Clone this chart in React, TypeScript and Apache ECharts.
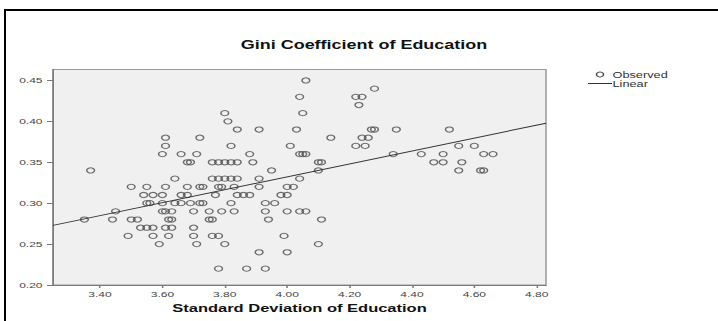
import { useEffect, useRef } from 'react';
import * as echarts from 'echarts';

// Gini coefficient levels and the standard deviations observed at each level
const giniLevels = [
  0.45, 0.44, 0.43, 0.42, 0.41, 0.4, 0.39, 0.38, 0.37, 0.36, 0.35, 0.34,
  0.33, 0.32, 0.31, 0.3, 0.29, 0.28, 0.27, 0.26, 0.25, 0.24, 0.22,
];
const stdDevAtLevel = [
  [4.06],
  [4.28],
  [4.04, 4.22, 4.24],
  [4.23],
  [3.8, 4.05],
  [3.81],
  [3.84, 3.91, 4.03, 4.27, 4.28, 4.35, 4.52],
  [3.61, 3.72, 4.14, 4.24, 4.26],
  [3.61, 3.82, 4.01, 4.22, 4.25, 4.55, 4.6],
  [3.6, 3.66, 3.71, 3.88, 4.04, 4.05, 4.06, 4.34, 4.43, 4.5, 4.63, 4.66],
  [3.68, 3.69, 3.76, 3.78, 3.8, 3.82, 3.84, 3.89, 4.1, 4.11, 4.47, 4.5, 4.56],
  [3.37, 3.95, 4.1, 4.55, 4.62, 4.63],
  [3.64, 3.76, 3.78, 3.8, 3.82, 3.84, 3.91, 4.04],
  [3.5, 3.55, 3.61, 3.68, 3.72, 3.73, 3.78, 3.79, 3.83, 3.91, 4.0, 4.02],
  [3.54, 3.57, 3.6, 3.66, 3.68, 3.77, 3.84, 3.86, 3.88, 3.98, 4.0],
  [3.55, 3.56, 3.6, 3.64, 3.66, 3.69, 3.72, 3.73, 3.82, 3.93, 3.96],
  [3.45, 3.6, 3.61, 3.63, 3.7, 3.75, 3.79, 3.83, 3.93, 4.0, 4.04, 4.06],
  [3.35, 3.44, 3.5, 3.52, 3.62, 3.63, 3.75, 3.76, 3.94, 4.11],
  [3.53, 3.55, 3.57, 3.61, 3.63, 3.7],
  [3.49, 3.57, 3.62, 3.7, 3.76, 3.78, 3.99],
  [3.59, 3.71, 3.8, 4.1],
  [3.91, 4.0],
  [3.78, 3.87, 3.93],
];

// Linear fit: gini = intercept + slope * stdDev
const fitIntercept = 0.0162;
const fitSlope = 0.079;

// Axis ranges and tick labels
const xRange = [3.2493, 4.8298];
const yRange = [0.2, 0.4634];
const xTickValues = [3.4, 3.6, 3.8, 4.0, 4.2, 4.4, 4.6, 4.8];
const yTickValues = [0.2, 0.25, 0.3, 0.35, 0.4, 0.45];

const titleText = 'Gini Coefficient of Education';
const xAxisTitle = 'Standard Deviation of Education';
const legendLabels = ['Observed', 'Linear'];

// The chart is laid out on a narrower canvas and stretched horizontally.
const PAGE_W = 718;
const PAGE_H = 321;
const DRAW_W = 479;
const STRETCH = PAGE_W / DRAW_W;

const FONT = "'Liberation Sans', Arial, Helvetica, sans-serif";

export default function App() {
  const ref = useRef<HTMLDivElement>(null);

  useEffect(() => {
    if (!ref.current) return;
    const chart = echarts.init(ref.current, undefined, { renderer: 'svg' });

    const observed: number[][] = [];
    giniLevels.forEach((g, i) => {
      stdDevAtLevel[i].forEach((sd) => observed.push([sd, g]));
    });
    const fitted = xRange.map((x) => [x, fitIntercept + fitSlope * x]);

    const u = (px: number) => px / STRETCH; // page x -> drawing x

    chart.setOption({
      animation: false,
      backgroundColor: '#ffffff',
      textStyle: { fontFamily: FONT },
      grid: {
        left: u(53),
        right: DRAW_W - u(546),
        top: 69.5,
        bottom: PAGE_H - 285,
        show: true,
        backgroundColor: '#f0f0f0',
        borderColor: '#9a9a9a',
        borderWidth: 1,
      },
      xAxis: {
        type: 'value',
        min: xRange[0],
        max: xRange[1],
        name: xAxisTitle,
        nameLocation: 'middle',
        nameGap: 18,
        nameTextStyle: {
          fontSize: 11,
          fontWeight: 'bold',
          color: '#111',
          fontFamily: FONT,
        },
        axisLine: { show: true, lineStyle: { color: '#7a7a7a', width: 1 } },
        axisTick: {
          show: true,
          inside: false,
          length: 3,
          customValues: xTickValues,
          lineStyle: { color: '#7a7a7a' },
        },
        axisLabel: {
          customValues: xTickValues,
          formatter: (v: number) => v.toFixed(2),
          fontSize: 8,
          color: '#444',
          margin: 5,
          fontFamily: FONT,
        },
        splitLine: { show: false },
      },
      yAxis: {
        type: 'value',
        min: yRange[0],
        max: yRange[1],
        axisLine: { show: true, lineStyle: { color: '#7a7a7a', width: 1 } },
        axisTick: {
          show: true,
          inside: false,
          length: 4,
          customValues: yTickValues,
          lineStyle: { color: '#7a7a7a' },
        },
        axisLabel: {
          customValues: yTickValues,
          formatter: (v: number) => v.toFixed(2),
          fontSize: 8,
          color: '#444',
          margin: 7,
          fontFamily: FONT,
        },
        splitLine: { show: false },
      },
      series: [
        {
          name: legendLabels[0],
          type: 'scatter',
          data: observed,
          symbol: 'circle',
          symbolSize: 5.2,
          itemStyle: {
            color: 'rgba(0,0,0,0)',
            borderColor: '#4a4a4a',
            borderWidth: 1,
          },
          silent: true,
        },
        {
          name: legendLabels[1],
          type: 'line',
          data: fitted,
          showSymbol: false,
          symbol: 'none',
          lineStyle: { color: '#333', width: 1 },
          silent: true,
          z: 3,
        },
      ],
      graphic: [
        // outer frame (top and left edges)
        {
          type: 'rect',
          shape: { x: u(4), y: 9, width: DRAW_W, height: 2 },
          style: { fill: '#000' },
          silent: true,
        },
        {
          type: 'rect',
          shape: { x: u(4), y: 9, width: u(2), height: PAGE_H },
          style: { fill: '#000' },
          silent: true,
        },
        // chart title
        {
          type: 'text',
          x: u(364),
          y: 44.5,
          style: {
            text: titleText,
            align: 'center',
            verticalAlign: 'middle',
            fontSize: 12,
            fontWeight: 'bold',
            fontFamily: FONT,
            fill: '#111',
          },
          silent: true,
        },
        // legend
        {
          type: 'circle',
          shape: { cx: u(600), cy: 74.5, r: 2.4 },
          style: { fill: 'rgba(0,0,0,0)', stroke: '#4a4a4a', lineWidth: 1 },
          silent: true,
        },
        {
          type: 'text',
          x: u(612.5),
          y: 74.5,
          style: {
            text: legendLabels[0],
            verticalAlign: 'middle',
            fontSize: 8.5,
            fontFamily: FONT,
            fill: '#333',
          },
          silent: true,
        },
        {
          type: 'line',
          shape: { x1: u(588), y1: 83.5, x2: u(612), y2: 83.5 },
          style: { stroke: '#333', lineWidth: 1 },
          silent: true,
        },
        {
          type: 'text',
          x: u(612.5),
          y: 83.5,
          style: {
            text: legendLabels[1],
            verticalAlign: 'middle',
            fontSize: 8.5,
            fontFamily: FONT,
            fill: '#333',
          },
          silent: true,
        },
      ],
    });

    return () => chart.dispose();
  }, []);

  return (
    <div
      style={{
        position: 'absolute',
        left: 0,
        top: 0,
        width: PAGE_W,
        height: PAGE_H,
        overflow: 'hidden',
        background: '#fff',
      }}
    >
      <div
        ref={ref}
        style={{
          width: DRAW_W,
          height: PAGE_H,
          transform: `scaleX(${STRETCH})`,
          transformOrigin: '0 0',
        }}
      />
    </div>
  );
}
